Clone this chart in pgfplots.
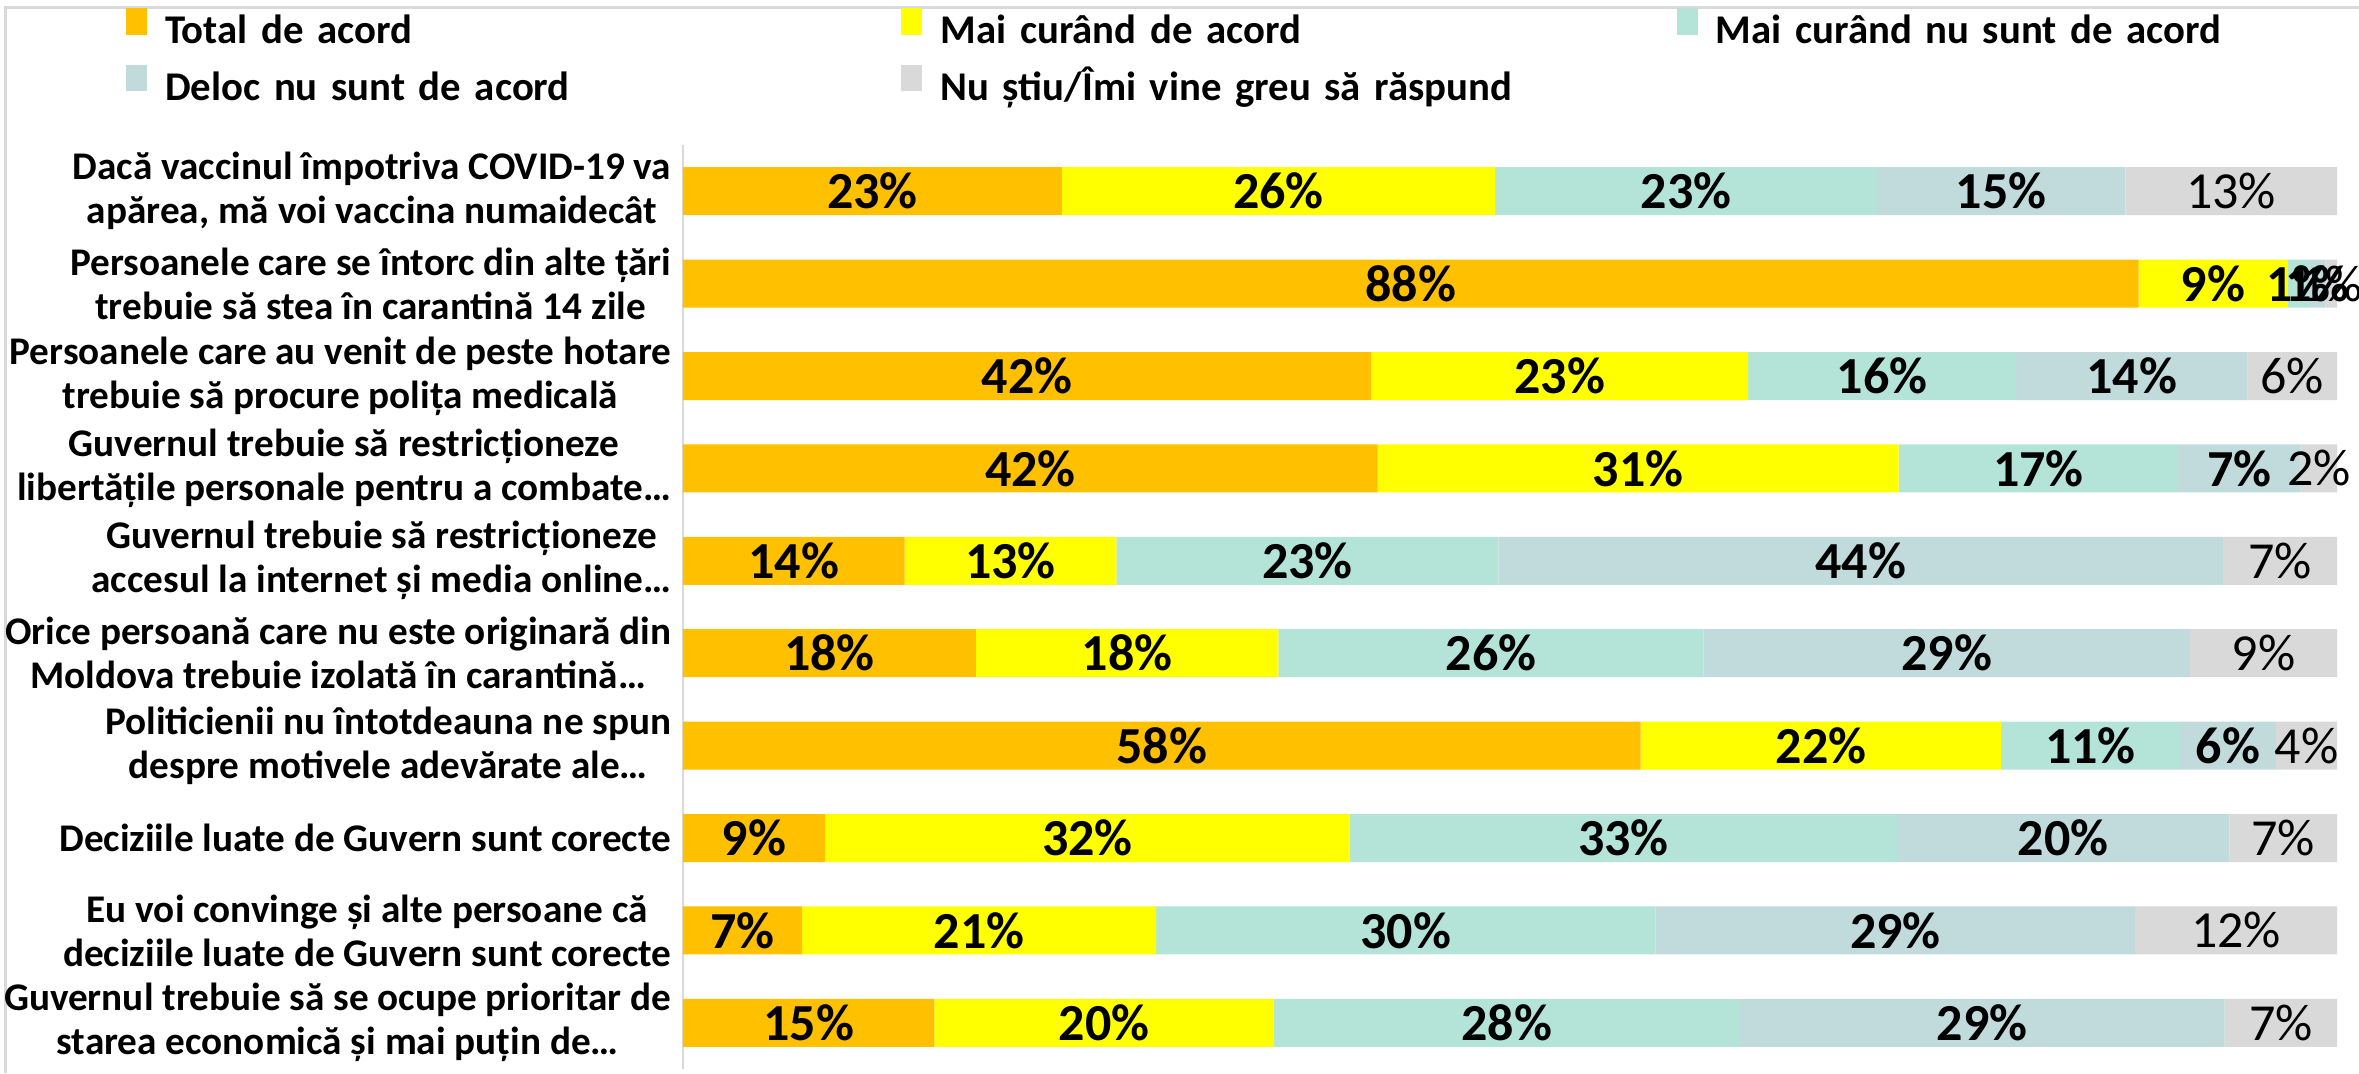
\documentclass[border=0pt]{standalone}
\usepackage{pgfplots}
\usepackage{pgfplotstable}
\pgfplotsset{compat=1.18}
\usepackage{fontspec}
\setmainfont{Carlito}
\definecolor{cA}{HTML}{FFC000}
\definecolor{cB}{HTML}{FFFF00}
\definecolor{cC}{HTML}{B4E4D7}
\definecolor{cD}{HTML}{C1DADB}
\definecolor{cE}{HTML}{D9D9D9}
\definecolor{frm}{HTML}{D9D9D9}

\pgfplotstableread{
y a b c d e la lb lc ld le
0 22.9 26.2 23.1 15.0 12.8 23 26 23 15 13
1 88.0 9.0 1.3 1.0 0.7 88 9 1 1 1
2 41.6 22.8 16.2 14.0 5.4 42 23 16 14 6
3 42.0 31.5 16.9 7.4 2.2 42 31 17 7 2
4 13.4 12.8 23.1 43.8 6.9 14 13 23 44 7
5 17.7 18.3 25.7 29.4 8.9 18 18 26 29 9
6 57.9 21.8 10.8 5.8 3.7 58 22 11 6 4
7 8.6 31.7 33.1 20.1 6.5 9 32 33 20 7
8 7.2 21.4 30.2 29.0 12.2 7 21 30 29 12
9 15.2 20.5 28.2 29.3 6.8 15 20 28 29 7
}\data
\pgfplotstablecreatecol[create col/expr={\thisrow{a}/2}]{ma}\data
\pgfplotstablecreatecol[create col/expr={\thisrow{a}+\thisrow{b}/2}]{mb}\data
\pgfplotstablecreatecol[create col/expr={\thisrow{a}+\thisrow{b}+\thisrow{c}/2}]{mc}\data
\pgfplotstablecreatecol[create col/expr={\thisrow{a}+\thisrow{b}+\thisrow{c}+\thisrow{d}/2}]{md}\data
\pgfplotstablecreatecol[create col/expr={\thisrow{a}+\thisrow{b}+\thisrow{c}+\thisrow{d}+\thisrow{e}/2}]{me}\data

\pgfplotsset{
  sq legend/.style={legend image code/.code={\fill[##1, draw=none] (0pt,-0.3pt) rectangle (5.25pt,6.3pt);}},
  common/.style={
    scale only axis, width=413.5pt, height=231pt,
    at={(170.75pt,1pt)}, anchor=south west,
    xmin=0, xmax=100, ymin=-0.5, ymax=9.5, y dir=reverse,
  },
  lab/.style={draw=none, mark=none, nodes near coords={\pgfplotspointmeta\%},
    point meta=explicit symbolic,
    every node near coord/.style={anchor=center, inner sep=0pt, font=\fontsize{13}{15}\selectfont#1}},
}

\begin{document}
\begin{tikzpicture}
\useasboundingbox (0,0) rectangle (589.75pt,268.25pt);
\draw[frm, line width=0.75pt] (1.25pt,0pt) -- (1.25pt,266.25pt) -- (589.75pt,266.25pt);
\begin{axis}[common,
  xbar stacked, bar width=12pt,
  axis x line=none, axis y line*=left,
  y axis line style={draw=frm, line width=0.6pt},
  xtick=\empty,
  ytick={0,...,9}, major tick length=0pt,
  yticklabel style={align=center, inner xsep=2.75pt, font=\fontsize{9.8}{11}\selectfont\bfseries},
  yticklabels={
    {Dacă vaccinul împotriva COVID-19 va\\apărea, mă voi vaccina numaidecât},
    {Persoanele care se întorc din alte țări\\trebuie să stea în carantină 14 zile},
    {Persoanele care au venit de peste hotare\\trebuie să procure polița medicală},
    {Guvernul trebuie să restricționeze\\libertățile personale pentru a combate…},
    {Guvernul trebuie să restricționeze\\accesul la internet și media online…},
    {Orice persoană care nu este originară din\\Moldova trebuie izolată în carantină…},
    {Politicienii nu întotdeauna ne spun\\despre motivele adevărate ale…},
    {Deciziile luate de Guvern sunt corecte},
    {Eu voi convinge și alte persoane că\\deciziile luate de Guvern sunt corecte},
    {Guvernul trebuie să se ocupe prioritar de\\starea economică și mai puțin de…}
  },
  legend columns=3,
  legend cell align=left,
  legend style={at={(-0.33736,1.1487)}, anchor=north west, draw=none, fill=none,
    inner sep=0pt, row sep=3.3pt,
    nodes={inner sep=0pt, text width=184pt, text height=7pt, text depth=2pt,
      font=\fontsize{10.2}{12}\selectfont\bfseries},
    /tikz/every odd column/.append style={column sep=4.6pt}},
]
\addplot[fill=cA, draw=none, sq legend] table[x=a, y=y] {\data};
\addlegendentry{Total de acord}
\addplot[fill=cB, draw=none, sq legend] table[x=b, y=y] {\data};
\addlegendentry{Mai curând de acord}
\addplot[fill=cC, draw=none, sq legend] table[x=c, y=y] {\data};
\addlegendentry{Mai curând nu sunt de acord}
\addplot[fill=cD, draw=none, sq legend] table[x=d, y=y] {\data};
\addlegendentry{Deloc nu sunt de acord}
\addplot[fill=cE, draw=none, sq legend] table[x=e, y=y] {\data};
\addlegendentry{Nu știu/Îmi vine greu să răspund}
\end{axis}
\begin{axis}[common, hide axis, clip=false]
\addplot[lab=\bfseries] table[x=ma, y=y, meta=la] {\data};
\addplot[lab=\bfseries] table[x=mb, y=y, meta=lb] {\data};
\addplot[lab=\bfseries] table[x=mc, y=y, meta=lc] {\data};
\addplot[lab=\bfseries] table[x=md, y=y, meta=ld] {\data};
\addplot[lab=\mdseries] table[x=me, y=y, meta=le] {\data};
\end{axis}
\end{tikzpicture}
\end{document}
